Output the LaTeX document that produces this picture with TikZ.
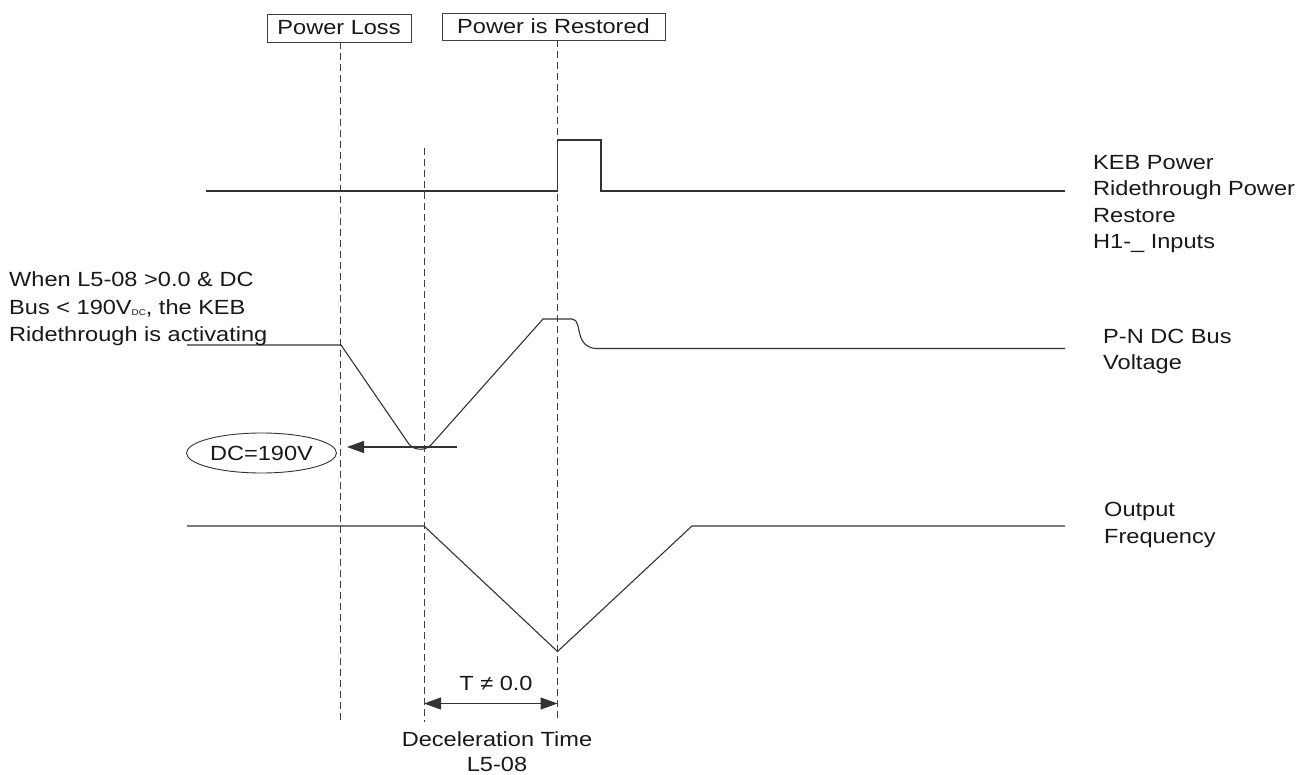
\documentclass[tikz,border=0pt]{standalone}
\usepackage{fontspec}
\setmainfont{Liberation Sans}[FakeStretch=1.15]
\usetikzlibrary{arrows.meta,shapes.geometric}
\begin{document}
\begin{tikzpicture}[x=1pt,y=-1pt,
  sig/.style={line width=1.1pt, draw=black!80},
  guide/.style={line width=0.9pt, draw=black!75, dash pattern=on 7pt off 4pt},
  lbl/.style={inner sep=0pt, font=\fontsize{20.5}{26.5}\selectfont, text=black!90},
  boxlbl/.style={draw=black!75, line width=0.9pt, inner sep=0pt, font=\fontsize{20.5}{24}\selectfont, text=black!90},
  tip/.style={-{Triangle[length=17pt,width=12pt]}},
  dtip/.style={{Triangle[length=17pt,width=12pt]}-{Triangle[length=17pt,width=12pt]}}]
\useasboundingbox[fill=white] (0,0) rectangle (1314,775);
% header boxes
\node[boxlbl, minimum width=144pt, minimum height=28pt] (pl) at (339,28) {Power Loss};
\node[boxlbl, minimum width=223pt, minimum height=27pt] (pr) at (553.5,26.5) {Power is Restored};
% guide lines
\coordinate (aBot) at (340.5,722);
\coordinate (bTop) at (424,148);
\coordinate (bBot) at (424,722);
\coordinate (cBot) at (557.5,722);
\draw[guide] (aBot |- pl.south) -- (aBot);
\draw[guide] (bTop) -- (bBot);
\draw[guide] (cBot |- pr.south) -- (cBot);
% KEB input signal
\draw[sig] (206,191) -- (557.5,191) -- (557.5,140) -- (601,140) -- (601,191) -- (1065,191);
% DC bus voltage
\draw[sig] (187,345) -- (341,345) -- (407.5,442) .. controls (412,450) and (424,452) .. (431,445)
  -- (543,319) -- (572,319) .. controls (578,319) and (578,328) .. (580,335)
  .. controls (583,345) and (589,348.5) .. (597,348.5) -- (1065,348.5);
% 190 V marker
\node[draw=black!80, line width=0.9pt, ellipse, minimum width=150pt, minimum height=40pt, lbl] (ell) at (261.5,453) {DC=190V};
\coordinate (refEnd) at (457,447);
\coordinate (refTip) at (347,447);
\draw[sig, tip] (refEnd) -- (refTip);
% output frequency
\draw[sig] (187,526) -- (424,526) -- (557.5,651.5) -- (692,526) -- (1065,526);
% deceleration time
\coordinate (dL) at (424,703.5);
\coordinate (dR) at (557.5,703.5);
\draw[sig, dtip] (dL) -- (dR);
\node[lbl, anchor=base] (tne) at (496,690) {T ≠ 0.0};
\node[lbl, anchor=base, align=center, font=\fontsize{20.5}{25}\selectfont] (dec) at (497,771.7) {Deceleration Time\\L5-08};
% labels
\node[lbl, anchor=base west, align=left] (keb) at (1093,248.8) {KEB Power\\Ridethrough Power\\Restore\\H1-\_ Inputs};
\node[lbl, anchor=base west, align=left] (pn) at (1103,369.8) {P-N DC Bus\\Voltage};
\node[lbl, anchor=base west, align=left] (of) at (1104,543.2) {Output\\Frequency};
\node[lbl, anchor=base west, align=left, font=\fontsize{20.5}{27.5}\selectfont] (when) at (9,341.7)
  {When L5-08 >0.0 \& DC\\Bus < 190V\raisebox{-1.5pt}{\fontsize{8.5}{8.5}\selectfont DC}, the KEB\\Ridethrough is activating};
\end{tikzpicture}
\end{document}
